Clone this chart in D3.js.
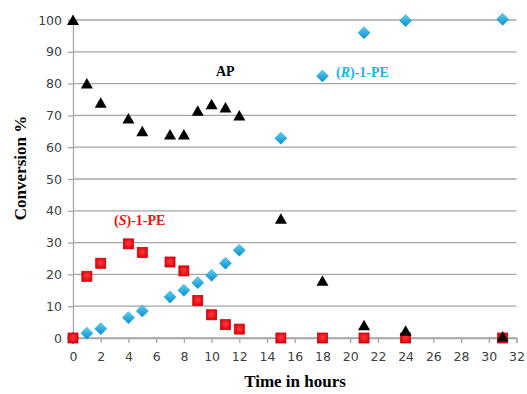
<!DOCTYPE html>
<html>
<head>
<meta charset="utf-8">
<script src="https://cdn.jsdelivr.net/npm/d3@7"></script>
<style>
  html, body { margin: 0; padding: 0; background: #fff; }
  svg { display: block; }
</style>
</head>
<body>
<svg id="chart" width="527" height="394"></svg>
<script>
// Sampling times (hours)
const hours = [0, 1, 2, 4, 5, 7, 8, 9, 10, 11, 12, 15, 18, 21, 24, 31];
// Conversion (%) for each species
const apValues = [100, 80, 74, 69, 65, 64, 64, 71.5, 73.5, 72.5, 70, 37.5, 18, 4, 2.3, 0.5];
const sPeValues = [0, 19.4, 23.5, 29.6, 26.9, 23.9, 21.1, 11.8, 7.3, 4.2, 2.8, 0, 0, 0, 0, 0];
const rPeValues = [0, 1.5, 2.9, 6.4, 8.5, 12.9, 15, 17.4, 19.7, 23.5, 27.6, 62.8, 82.4, 96, 99.8, 100.2];

const xTicks = d3.range(0, 33, 2);
const yTicks = d3.range(0, 101, 10);

const svg = d3.select("#chart");
const margin = { left: 73, right: 10.5, top: 20, bottom: 56 };
const W = 527, H = 394;

const x = d3.scaleLinear().domain([0, 32]).range([margin.left, W - margin.right]);
const y = d3.scaleLinear().domain([0, 100]).range([H - margin.bottom, margin.top]);

const defs = svg.append("defs");
const redGrad = defs.append("radialGradient").attr("id", "redFill").attr("cx", "50%").attr("cy", "45%").attr("r", "60%");
redGrad.append("stop").attr("offset", "0%").attr("stop-color", "#ff3a3a");
redGrad.append("stop").attr("offset", "100%").attr("stop-color", "#e0000a");
const blueGrad = defs.append("linearGradient").attr("id", "blueFill").attr("x1", "0").attr("y1", "0").attr("x2", "0").attr("y2", "1");
blueGrad.append("stop").attr("offset", "0%").attr("stop-color", "#5fd0f5");
blueGrad.append("stop").attr("offset", "100%").attr("stop-color", "#0a8cc6");

// Horizontal gridlines
svg.append("g")
  .selectAll("line")
  .data(yTicks)
  .join("line")
  .attr("x1", margin.left).attr("x2", W - margin.right)
  .attr("y1", d => y(d)).attr("y2", d => y(d))
  .attr("stroke", "#a6a6a6").attr("stroke-width", 1.3);

// Y axis
const yAxis = svg.append("g")
  .attr("transform", `translate(${margin.left},0)`)
  .call(d3.axisLeft(y).tickValues(yTicks).tickSize(5).tickPadding(6));
yAxis.select(".domain").attr("stroke", "#a6a6a6").attr("stroke-width", 1.3);
yAxis.selectAll(".tick line").attr("stroke", "#a6a6a6").attr("stroke-width", 1.3);
yAxis.selectAll("text").attr("fill", "#404040").attr("font-family", "DejaVu Sans, sans-serif").attr("font-size", 12.5);

// X axis
const xAxis = svg.append("g")
  .attr("transform", `translate(0,${y(0)})`)
  .call(d3.axisBottom(x).tickValues(xTicks).tickSize(5).tickPadding(9));
xAxis.select(".domain").attr("stroke", "#a6a6a6").attr("stroke-width", 1.3);
xAxis.selectAll(".tick line").attr("stroke", "#a6a6a6").attr("stroke-width", 1.3);
xAxis.selectAll("text").attr("fill", "#404040").attr("font-family", "DejaVu Sans, sans-serif").attr("font-size", 12.5);

// Axis titles
svg.append("text")
  .attr("x", 295).attr("y", 387)
  .attr("text-anchor", "middle")
  .attr("font-family", "Liberation Serif, serif").attr("font-weight", "bold").attr("font-size", 17)
  .text("Time in hours");
svg.append("text")
  .attr("transform", "translate(26,168) rotate(-90)")
  .attr("text-anchor", "middle")
  .attr("font-family", "Liberation Serif, serif").attr("font-weight", "bold").attr("font-size", 17)
  .text("Conversion %");

// (R)-1-PE: blue diamonds
svg.append("g")
  .selectAll("path")
  .data(hours.map((h, i) => [h, rPeValues[i]]))
  .join("path")
  .attr("transform", d => `translate(${x(d[0])},${y(d[1])})`)
  .attr("d", "M0,-6 L6,0 L0,6 L-6,0 Z")
  .attr("fill", "url(#blueFill)")
  .attr("stroke", "#1a9fd6").attr("stroke-width", 0.6);

// (S)-1-PE: red squares
svg.append("g")
  .selectAll("rect")
  .data(hours.map((h, i) => [h, sPeValues[i]]))
  .join("rect")
  .attr("x", d => x(d[0]) - 5).attr("y", d => y(d[1]) - 5)
  .attr("width", 10).attr("height", 10)
  .attr("fill", "url(#redFill)")
  .attr("stroke", "#c8000a").attr("stroke-width", 0.8);

// AP: black triangles
svg.append("g")
  .selectAll("path")
  .data(hours.map((h, i) => [h, apValues[i]]))
  .join("path")
  .attr("transform", d => `translate(${x(d[0])},${y(d[1])})`)
  .attr("d", "M0,-5.5 L6,5 L-6,5 Z")
  .attr("fill", "#000");

// Series labels
const labelFont = "Liberation Serif, serif";
svg.append("text")
  .attr("x", 216).attr("y", 76)
  .attr("font-family", labelFont).attr("font-weight", "bold").attr("font-size", 14)
  .attr("fill", "#000")
  .text("AP");

const rLabel = svg.append("text")
  .attr("x", 336).attr("y", 77)
  .attr("font-family", labelFont).attr("font-weight", "bold").attr("font-size", 14)
  .attr("fill", "#1ab4ec");
rLabel.append("tspan").text("(");
rLabel.append("tspan").attr("font-style", "italic").text("R");
rLabel.append("tspan").text(")-1-PE");

const sLabel = svg.append("text")
  .attr("x", 114).attr("y", 225)
  .attr("font-family", labelFont).attr("font-weight", "bold").attr("font-size", 14)
  .attr("fill", "#ee1111");
sLabel.append("tspan").text("(");
sLabel.append("tspan").attr("font-style", "italic").text("S");
sLabel.append("tspan").text(")-1-PE");
</script>
</body>
</html>
